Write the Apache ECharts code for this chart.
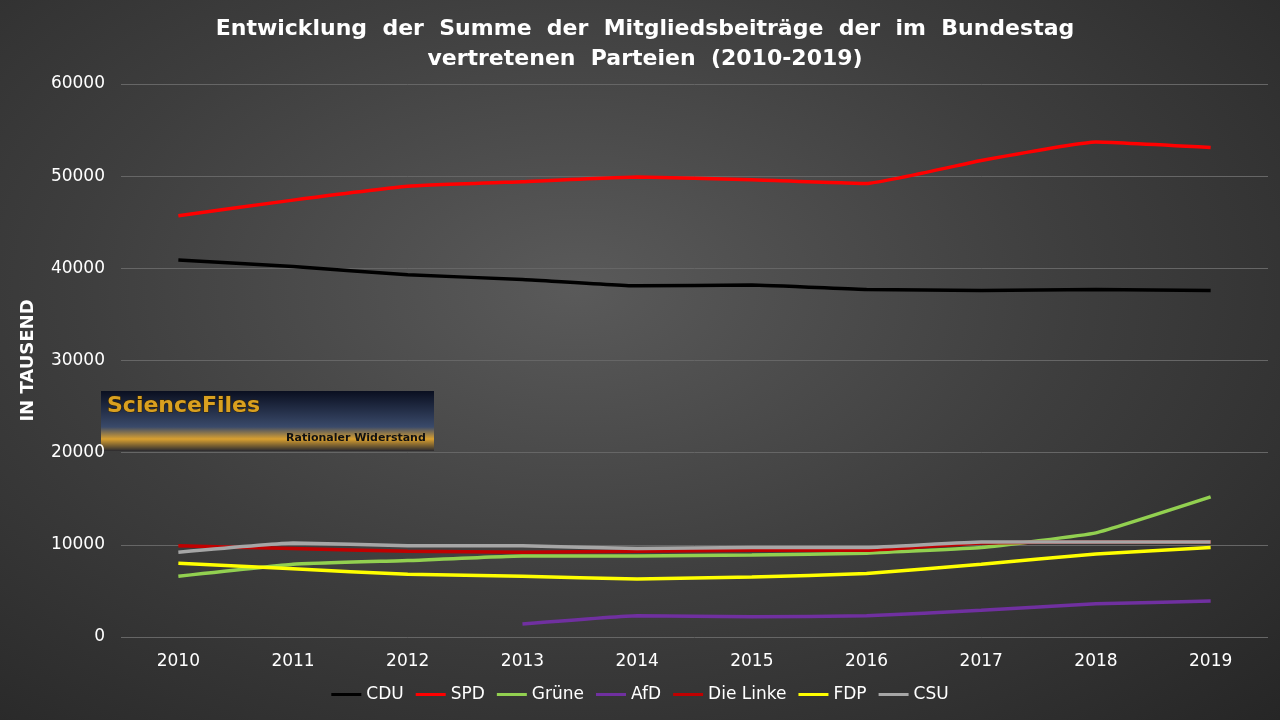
<!DOCTYPE html>
<html><head><meta charset="utf-8">
<script src="https://cdn.jsdelivr.net/npm/echarts@6/dist/echarts.min.js"></script>
<style>html,body{margin:0;padding:0;}#c{width:1280px;height:720px;background:radial-gradient(ellipse at 45% 40%,#5a5a5a 0%,#3e3e3e 50%,#262626 100%);}</style>
</head><body><div id="c"></div>
<script>
const years=['2010','2011','2012','2013','2014','2015','2016','2017','2018','2019'];
const cdu=[40900,40200,39300,38800,38100,38200,37700,37600,37700,37600];
const spd=[45700,47400,48900,49400,49900,49600,49200,51700,53700,53100];
const gruene=[6600,7900,8300,8800,8800,8900,9100,9700,11300,15200];
const afd=[null,null,null,1400,2300,2200,2300,2900,3600,3900];
const linke=[9900,9600,9300,9200,9300,9400,9400,10200,10300,10300];
const fdp=[8000,7400,6800,6600,6300,6500,6900,7900,9000,9700];
const csu=[9200,10200,9900,9900,9600,9700,9700,10300,10300,10300];
const mk=(n,d,c)=>({name:n,type:'line',data:d,symbol:'none',smooth:0.1,lineStyle:{width:3.5,color:c},itemStyle:{color:c}});
const ch=echarts.init(document.getElementById('c'));
ch.setOption({
 title:{text:'Entwicklung  der  Summe  der  Mitgliedsbeiträge  der  im  Bundestag\nvertretenen  Parteien  (2010-2019)',left:640,textAlign:'center',top:9,textStyle:{color:'#fff',fontFamily:'DejaVu Sans',fontWeight:'bold',fontSize:22,lineHeight:30}},
 grid:{left:121,right:12,top:84,bottom:83},
 legend:{bottom:12,itemWidth:30,itemHeight:3,itemGap:12,icon:'rect',textStyle:{color:'#fff',fontSize:17,fontFamily:'DejaVu Sans'}},
 xAxis:{type:'category',data:years,boundaryGap:true,axisLine:{show:false},axisTick:{show:false},axisLabel:{color:'#fff',fontSize:17,margin:16,fontFamily:'DejaVu Sans'}},
 yAxis:{type:'value',min:0,max:60000,interval:10000,name:'IN TAUSEND',nameLocation:'middle',nameGap:84,nameTextStyle:{color:'#fff',fontWeight:'bold',fontSize:18,fontFamily:'DejaVu Sans'},axisLabel:{color:'#fff',fontSize:17,margin:16,fontFamily:'DejaVu Sans',formatter:v=>String(v)},splitLine:{lineStyle:{color:'#666',width:1}}},
 graphic:[{type:'group',left:101,top:391,children:[
  {type:'rect',shape:{width:333,height:60},style:{fill:new echarts.graphic.LinearGradient(0,0,0,1,[{offset:0,color:'#0a0f20'},{offset:0.6,color:'#3a4a6a'},{offset:0.8,color:'#d9a030'},{offset:1,color:'#2a2a30'}])}},
  {type:'text',x:6,y:4,style:{text:'ScienceFiles',fill:'#d9a020',font:'bold 22px DejaVu Sans',stroke:'#332200',lineWidth:1}},
  {type:'text',x:185,y:42,style:{text:'Rationaler Widerstand',fill:'#111',font:'bold 11px DejaVu Sans'}}
 ]}],
 series:[mk('CDU',cdu,'#000'),mk('SPD',spd,'#ff0000'),mk('Grüne',gruene,'#92d050'),mk('AfD',afd,'#7030a0'),mk('Die Linke',linke,'#c00000'),mk('FDP',fdp,'#ffff00'),mk('CSU',csu,'#a6a6a6')]
});
</script></body></html>
